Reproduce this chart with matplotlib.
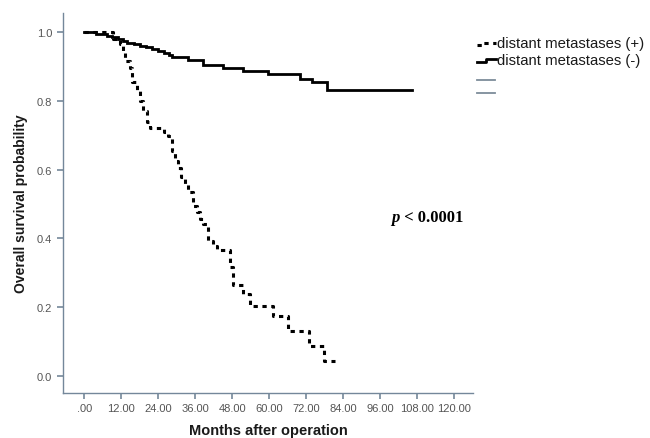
import matplotlib
matplotlib.use("Agg")
import matplotlib.pyplot as plt
from matplotlib.lines import Line2D

# ---- data ----
neg_months = [0, 3.8, 7.5, 9.0, 11.0, 12.5, 14.0, 16.0, 18.0, 20.0, 22.0, 24.0, 26.0,
              27.5, 28.4, 33.7, 38.6, 45.0, 51.5, 59.7, 70.0, 73.9, 78.7]
neg_surv = [1.0, 0.996, 0.99, 0.985, 0.98, 0.975, 0.970, 0.965, 0.961, 0.956, 0.952,
            0.946, 0.940, 0.934, 0.928, 0.919, 0.906, 0.896, 0.886, 0.877, 0.864, 0.854, 0.832]
neg_end = 106.3

pos_months = [0, 9.2, 11.6, 12.5, 13.2, 14.8, 15.4, 17.0, 18.1, 19.2, 20.3, 21.3, 26.0,
              27.3, 28.4, 29.5, 30.5, 31.5, 32.7, 33.8, 35.2, 36.5, 37.6, 38.6, 40.3,
              41.9, 43.0, 47.3, 48.4, 51.5, 53.8, 61.4, 66.3, 72.8, 77.9]
pos_surv = [1.0, 0.98, 0.966, 0.94, 0.917, 0.895, 0.854, 0.830, 0.80, 0.772, 0.738, 0.721,
            0.709, 0.697, 0.653, 0.626, 0.605, 0.58, 0.558, 0.534, 0.495, 0.476, 0.456,
            0.442, 0.393, 0.379, 0.366, 0.316, 0.264, 0.238, 0.204, 0.175, 0.131, 0.087, 0.044]
pos_end = 81.4

x_ticks = [0, 12, 24, 36, 48, 60, 72, 84, 96, 108, 120]
x_ticklabels = [".00", "12.00", "24.00", "36.00", "48.00", "60.00", "72.00", "84.00",
                "96.00", "108.00", "120.00"]
y_ticks = [0.0, 0.2, 0.4, 0.6, 0.8, 1.0]
y_ticklabels = ["0.0", "0.2", "0.4", "0.6", "0.8", "1.0"]
legend_labels = ["distant metastases (+)", "distant metastases (-)"]
p_text = "p"
p_rest = " < 0.0001"
x_label = "Months after operation"
y_label = "Overall survival probability"

plt.rcParams['font.family'] = ['Liberation Sans', 'DejaVu Sans']

W, H = 650, 439
fig = plt.figure(figsize=(6.5, 4.39), dpi=100)
fig.patch.set_facecolor("white")
ax = fig.add_axes([63.3 / W, 1 - 394.3 / H, (473 - 63.3) / W, (394.3 - 14) / H])

ax.step(neg_months + [neg_end], neg_surv + [neg_surv[-1]], where="post",
        color="black", lw=2.0, solid_joinstyle="miter")
ax.step(pos_months + [pos_end], pos_surv + [pos_surv[-1]], where="post",
        color="black", lw=2.2, dashes=(1.4, 1.5))

ax.set_xlim(-6.8, 126.2)
ax.set_ylim(-0.051, 1.056)

spine_c = "#74879a"
for s in ["top", "right"]:
    ax.spines[s].set_visible(False)
for s in ["left", "bottom"]:
    ax.spines[s].set_color(spine_c)
    ax.spines[s].set_linewidth(1.0)

ax.set_xticks(x_ticks)
ax.set_xticklabels(x_ticklabels)
ax.set_yticks(y_ticks)
ax.set_yticklabels(y_ticklabels)
ax.tick_params(axis="both", direction="out", length=4.5, width=1.2, color=spine_c,
               labelsize=8, labelcolor="#555555")
ax.tick_params(axis="x", pad=2.5)
ax.tick_params(axis="y", pad=3.5)

ax.set_xlabel(x_label, fontsize=10.5, fontweight="bold", color="#1a1a1a", va="center")
ax.xaxis.set_label_coords(0.5, (394.3 - 431) / 380.3)
ax.set_ylabel(y_label, fontsize=10, fontweight="bold", color="#1a1a1a", va="center")
ax.yaxis.set_label_coords((21 - 63.3) / 409.7, 0.5)

# p-value annotation
tp = ax.text(99.8, 0.4496, p_text, fontsize=12, fontfamily="Liberation Serif",
             fontstyle="italic", fontweight="bold", ha="left", va="baseline")
ax.annotate(p_rest, xy=(1, 0), xycoords=tp, fontsize=12, fontfamily="Liberation Serif",
            fontweight="bold", ha="left", va="bottom")

# legend drawn in figure pixel space
def fx(px):
    return px / W

def fy(py):
    return 1 - py / H

fig.add_artist(Line2D([fx(477), fx(483), fx(483), fx(496)],
                      [fy(46), fy(46), fy(44), fy(44)], color="black", lw=2.2,
                      dashes=(1.4, 1.5), transform=fig.transFigure))
fig.add_artist(Line2D([fx(477), fx(486), fx(486), fx(496)],
                      [fy(62.5), fy(62.5), fy(59.5), fy(59.5)], color="black", lw=2.0,
                      transform=fig.transFigure))
for py in (80.5, 94):
    fig.add_artist(Line2D([fx(477), fx(495)], [fy(py), fy(py)], color="#7d8c9a", lw=1.3,
                          transform=fig.transFigure))
for label, py in zip(legend_labels, (44, 61)):
    fig.text(fx(497), fy(py), label, fontsize=10.7, color="#1a1a1a", ha="left", va="center")

fig.savefig("out.png", dpi=100)
